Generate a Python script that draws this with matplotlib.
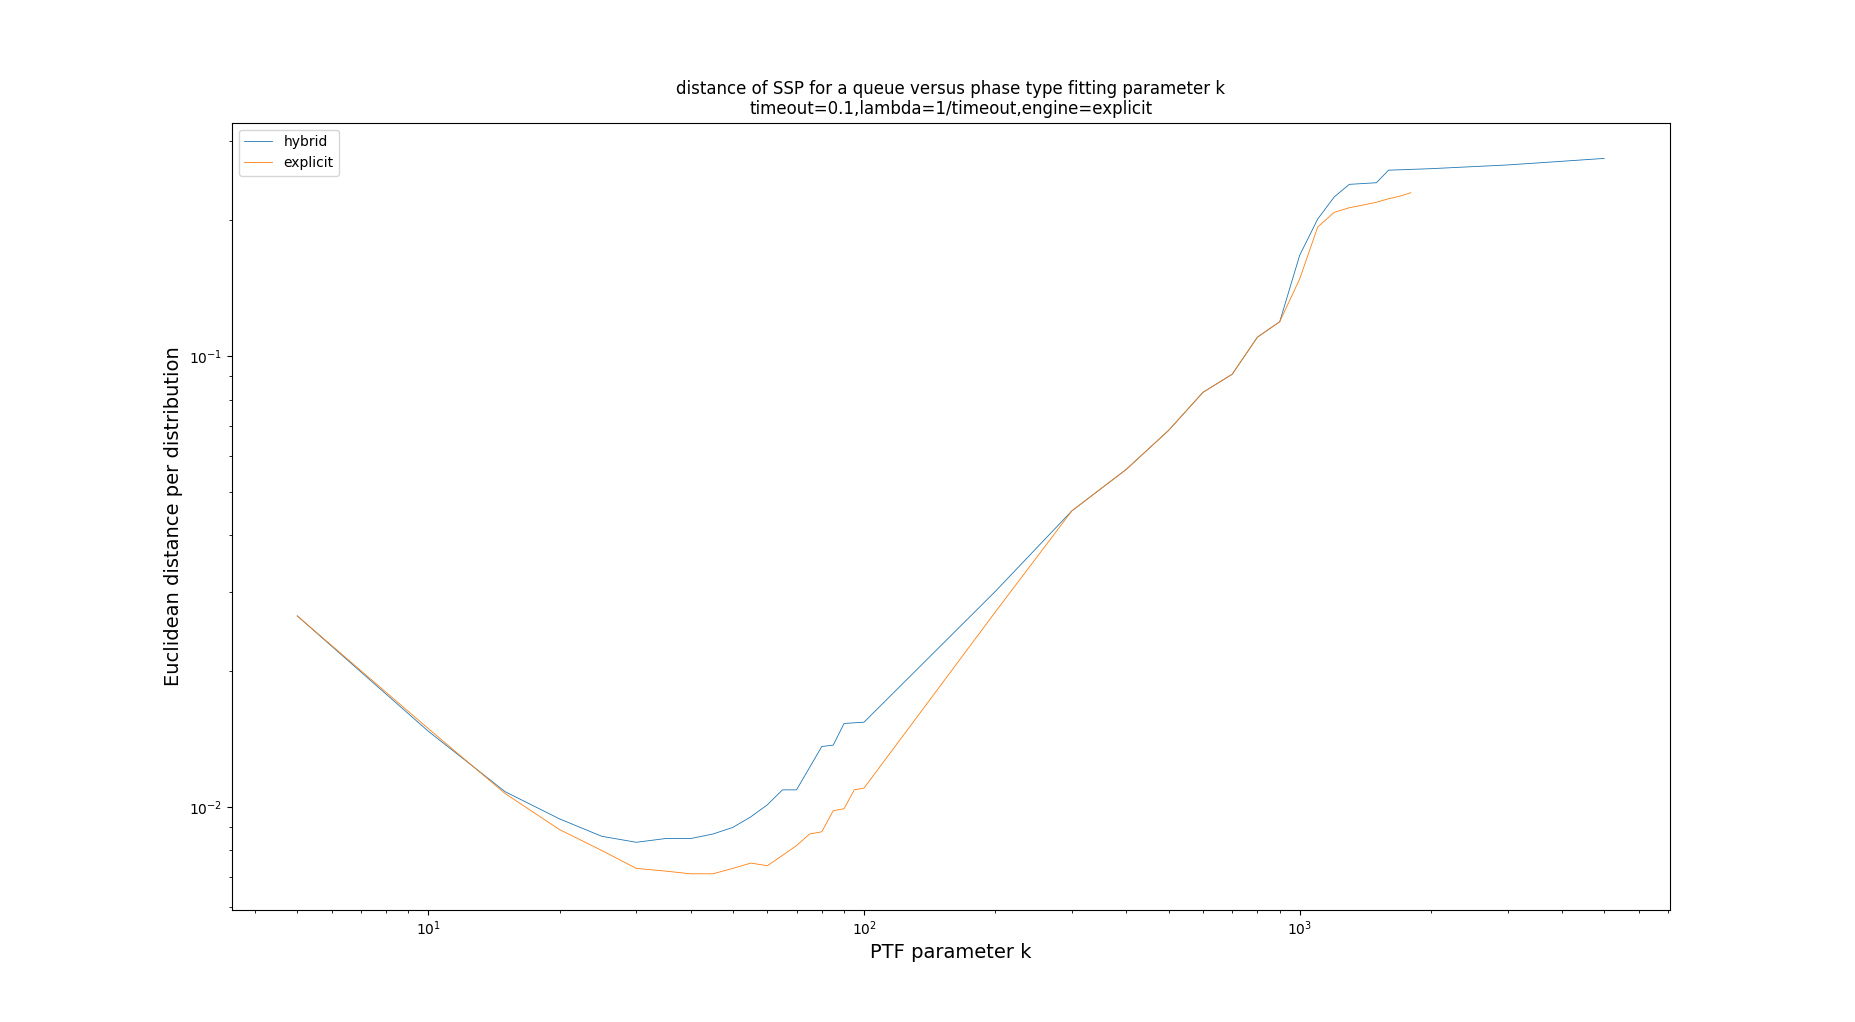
import matplotlib
matplotlib.use("Agg")
import matplotlib.pyplot as plt

k_hybrid = [5,10,15,20,25,30,35,40,45,50,55,60,65,70,80,85,90,100,200,300,400,500,600,700,800,900,1000,1100,1200,1300,1500,1600,2000,3000,4000,5000]
d_hybrid = [0.0265,0.0147,0.0108,0.0094,0.0086,0.00834,0.0085,0.0085,0.0087,0.0090,0.0095,0.0101,0.0109,0.0109,0.0136,0.0137,0.0153,0.0154,0.030,0.0453,0.056,0.0683,0.083,0.091,0.110,0.119,0.167,0.201,0.225,0.240,0.242,0.258,0.260,0.265,0.270,0.274]

k_explicit = [5,10,15,20,25,30,35,40,45,50,55,60,65,70,75,80,85,90,95,100,200,300,400,500,600,700,800,900,1000,1100,1200,1300,1400,1500,1600,1700,1800]
d_explicit = [0.0265,0.0149,0.0107,0.0089,0.0080,0.0073,0.0072,0.0071,0.0071,0.0073,0.0075,0.0074,0.0078,0.0082,0.0087,0.0088,0.0098,0.0099,0.0109,0.0110,0.027,0.0453,0.056,0.0683,0.083,0.091,0.110,0.119,0.148,0.193,0.208,0.213,0.216,0.219,0.223,0.226,0.230]

fig = plt.figure(figsize=(18.55, 10.22), dpi=100)
ax = fig.add_subplot(111)
ax.plot(k_hybrid, d_hybrid, lw=0.6, label="hybrid")
ax.plot(k_explicit, d_explicit, lw=0.6, label="explicit")
ax.set_xscale("log")
ax.set_yscale("log")
ax.set_title("distance of SSP for a queue versus phase type fitting parameter k\ntimeout=0.1,lambda=1/timeout,engine=explicit")
ax.set_xlabel("PTF parameter k", fontsize=14)
ax.set_ylabel("Euclidean distance per distribution", fontsize=14)
ax.legend(loc="upper left")
fig.savefig("out.png", dpi=100)
